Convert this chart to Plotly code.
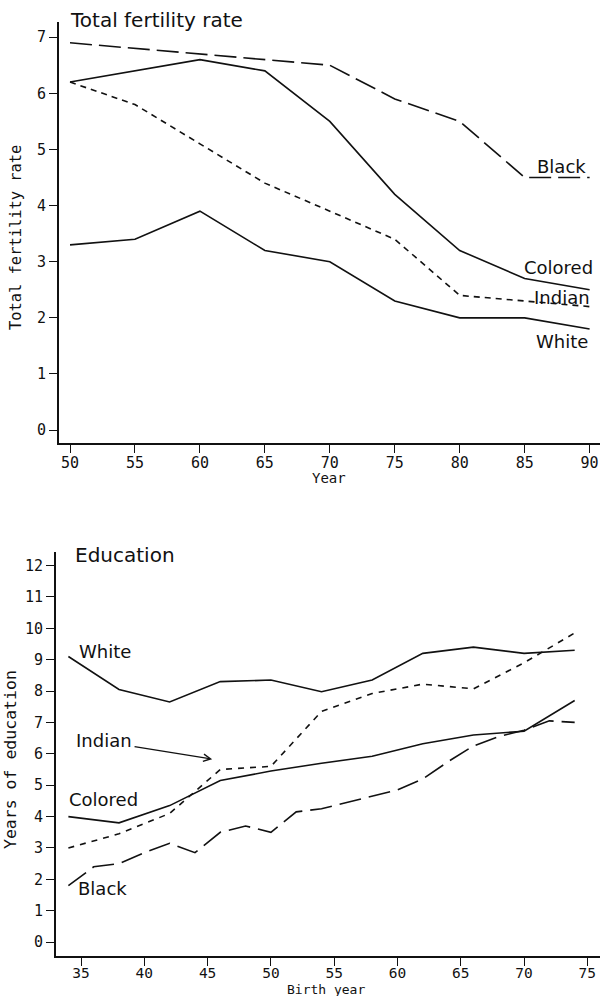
import plotly.graph_objects as go

# ---- Total fertility rate by year ----
tfr_years = [50, 55, 60, 65, 70, 75, 80, 85, 90]
tfr_black = [6.9, 6.8, 6.7, 6.6, 6.5, 5.9, 5.5, 4.5, 4.5]
tfr_colored = [6.2, 6.4, 6.6, 6.4, 5.5, 4.2, 3.2, 2.7, 2.5]
tfr_indian = [6.2, 5.8, 5.1, 4.4, 3.9, 3.4, 2.4, 2.3, 2.2]
tfr_white = [3.3, 3.4, 3.9, 3.2, 3.0, 2.3, 2.0, 2.0, 1.8]
tfr_xticks = [50, 55, 60, 65, 70, 75, 80, 85, 90]
tfr_yticks = [0, 1, 2, 3, 4, 5, 6, 7]

# ---- Years of education by birth year ----
edu_years = [34, 38, 42, 46, 50, 54, 58, 62, 66, 70, 74]
edu_white = [9.1, 8.05, 7.65, 8.3, 8.35, 7.98, 8.35, 9.2, 9.4, 9.2, 9.3]
edu_colored = [4.0, 3.8, 4.35, 5.15, 5.45, 5.7, 5.92, 6.32, 6.6, 6.72, 7.7]
edu_indian = [3.0, 3.45, 4.1, 5.5, 5.6, 7.35, 7.92, 8.22, 8.07, 8.9, 9.85]
edu_black_years = [34, 36, 38, 40, 42, 44, 46, 48, 50, 52, 54, 56, 58, 60,
                   62, 64, 66, 68, 70, 72, 74]
edu_black = [1.8, 2.4, 2.5, 2.85, 3.15, 2.85, 3.5, 3.7, 3.5, 4.15, 4.25, 4.45,
             4.65, 4.85, 5.2, 5.75, 6.25, 6.55, 6.75, 7.05, 7.0]
edu_xticks = [35, 40, 45, 50, 55, 60, 65, 70, 75]
edu_yticks = list(range(0, 13))

MONO = "DejaVu Sans Mono"
SANS = "DejaVu Sans"
INK = "#111111"
LW = 1.6

fig = go.Figure()


def add_line(x, y, dash, xa, ya):
    fig.add_trace(go.Scatter(
        x=x, y=y, mode="lines", xaxis=xa, yaxis=ya, showlegend=False,
        line=dict(color=INK, width=LW, dash=dash), hoverinfo="skip"))


add_line(tfr_years, tfr_black, "22px,7px", "x", "y")
add_line(tfr_years, tfr_colored, "solid", "x", "y")
add_line(tfr_years, tfr_indian, "6px,5px", "x", "y")
add_line(tfr_years, tfr_white, "solid", "x", "y")

add_line(edu_years, edu_white, "solid", "x2", "y2")
add_line(edu_years, edu_colored, "solid", "x2", "y2")
add_line(edu_years, edu_indian, "6px,6px", "x2", "y2")
add_line(edu_black_years, edu_black, "22px,8px", "x2", "y2")

axis_common = dict(
    showline=True, linecolor=INK, linewidth=1.8, mirror=False,
    showgrid=False, zeroline=False, ticks="outside", ticklen=8,
    tickwidth=1.4, tickcolor=INK,
)
tick15 = dict(family=MONO, size=15, color=INK)
tick14 = dict(family=MONO, size=14.5, color=INK)

fig.update_layout(
    width=600, height=996,
    margin=dict(l=0, r=0, t=0, b=0),
    paper_bgcolor="white", plot_bgcolor="white",
    font=dict(family=MONO, color=INK),
    xaxis=dict(domain=[0.0983, 1.0], range=[49.15, 90.8], anchor="y",
               tickvals=tfr_xticks, ticklabelstandoff=-3, tickfont=tick15,
               **axis_common),
    yaxis=dict(domain=[0.5552, 0.9779], range=[-0.23, 7.27], anchor="x",
               tickvals=tfr_yticks, tickfont=tick15, **axis_common),
    xaxis2=dict(domain=[0.0933, 1.0], range=[33.02, 76.0], anchor="y2",
                tickvals=edu_xticks, ticklabelstandoff=-5, tickfont=tick14,
                **axis_common),
    yaxis2=dict(domain=[0.0402, 0.4458], range=[-0.44, 12.43], anchor="x2",
                tickvals=edu_yticks, tickfont=tick15, **axis_common),
)

lab_font = dict(family=SANS, size=18, color=INK)
title_font = dict(family=SANS, size=20, color=INK)

# series labels, top panel
for text, x, y in [("Black", 87.85, 4.70), ("Colored", 87.6, 2.90),
                   ("Indian", 87.85, 2.37), ("White", 87.85, 1.57)]:
    fig.add_annotation(x=x, y=y, xref="x", yref="y", text=text,
                       showarrow=False, font=lab_font)

# series labels, bottom panel
for text, x, y in [("White", 36.86, 9.27), ("Colored", 36.74, 4.55),
                   ("Black", 36.66, 1.70)]:
    fig.add_annotation(x=x, y=y, xref="x2", yref="y2", text=text,
                       showarrow=False, font=lab_font)

fig.add_annotation(x=36.78, y=6.43, xref="x2", yref="y2", text="Indian",
                   showarrow=False, font=lab_font)
fig.add_annotation(x=45.36, y=5.83, xref="x2", yref="y2", text="",
                   showarrow=True, ax=39.11, ay=6.24, axref="x2", ayref="y2",
                   arrowhead=5, arrowsize=1.1, arrowwidth=1.3,
                   arrowcolor=INK)


def paper_text(text, px, py, font, angle=0, xanchor="center"):
    fig.add_annotation(x=px / 600, y=1 - py / 996, xref="paper",
                       yref="paper", text=text, showarrow=False,
                       textangle=angle, xanchor=xanchor, yanchor="middle",
                       font=font)


# panel titles
paper_text("Total fertility rate", 68, 19.5, title_font, xanchor="left")
paper_text("Education", 73, 554.5, title_font, xanchor="left")

# axis titles
paper_text("Total fertility rate", 16.5, 237.5,
           dict(family=MONO, size=15.4, color=INK), angle=-90)
paper_text("Year", 328.5, 478, dict(family=MONO, size=14, color=INK))
paper_text("Years of education", 10, 760,
           dict(family=MONO, size=16.5, color=INK), angle=-90)
paper_text("Birth year", 325.5, 989.5, dict(family=MONO, size=13, color=INK))

fig.write_html("out.html")
